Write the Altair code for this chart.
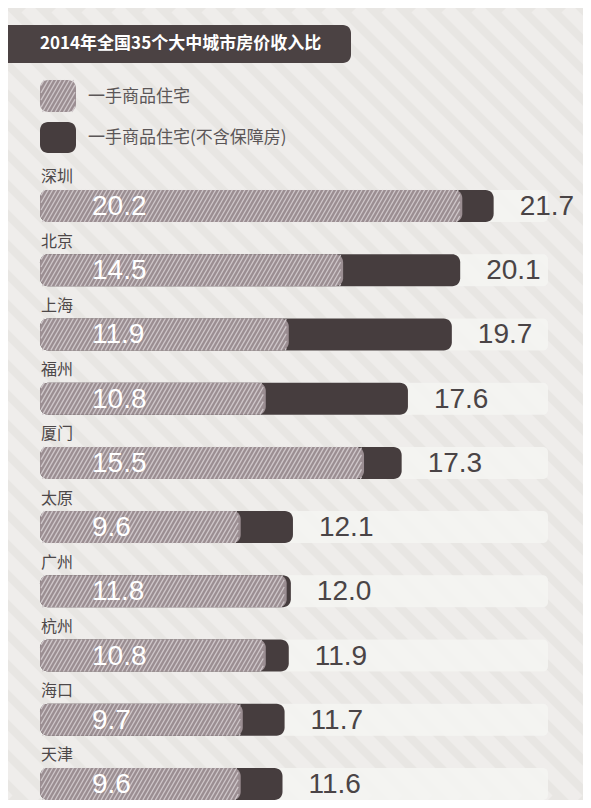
import altair as alt
import pandas as pd
import numpy as np

# ---------------- data ----------------
cities = ["深圳", "北京", "上海", "福州", "厦门", "太原", "广州", "杭州", "海口", "天津"]
first_hand = [20.2, 14.5, 11.9, 10.8, 15.5, 9.6, 11.8, 10.8, 9.7, 9.6]          # 一手商品住宅
excl_affordable = [21.7, 20.1, 19.7, 17.6, 17.3, 12.1, 12.0, 11.9, 11.7, 11.6]  # 不含保障房
title_text = "2014年全国35个大中城市房价收入比"
legend_labels = ["一手商品住宅", "一手商品住宅(不含保障房)"]
AXIS_MAX = 24.3

# ---------------- style ----------------
W, H = 575, 792
HH = 0.249            # half bar height in row units
CJK = "Noto Sans CJK SC"
NUM_FONT = "Liberation Sans Narrow, Liberation Sans, sans-serif"
BG = "#e8e6e3"
DARK = "#463d3e"
HATCH_BASE = "#9b8e92"
HATCH_LINE = "#cfc7ca"

df = pd.DataFrame({"city": cities, "v1": first_hand, "v2": excl_affordable,
                   "row": list(range(len(cities)))})
df["top"] = df.row - HH
df["bot"] = df.row + HH
df["zero"] = 0.0
df["tend"] = AXIS_MAX
df["lab_y"] = df.row - 0.444

# hatch texture for the first-hand bars (derived from the values)
SHIFT, STEP, INSET = 0.88, 0.2, 0.12
hatch = []
for r, v in zip(df.row, df.v1):
    for s in np.arange(-SHIFT, v, STEP):
        lo, hi = 0.05, v - INSET
        t0 = max(0.0, (lo - s) / SHIFT)
        t1 = min(1.0, (hi - s) / SHIFT)
        if t1 <= t0:
            continue
        hatch.append(dict(x=s + SHIFT * t0, x2=s + SHIFT * t1,
                          y=r + HH - 2 * HH * t0, y2=r + HH - 2 * HH * t1))
hatch = pd.DataFrame(hatch)

xs = alt.Scale(domain=[0, AXIS_MAX], range=[32, 540], zero=False, nice=False)
ys = alt.Scale(domain=[0, len(cities) - 1], range=[198, 776], zero=False, nice=False)

base = alt.Chart(df)
track = base.mark_rect(color="#f5f4f2", opacity=0.85, cornerRadius=5).encode(
    x=alt.X("zero:Q", scale=xs, axis=None), x2="tend:Q",
    y=alt.Y("top:Q", scale=ys, axis=None), y2="bot:Q")
dark = base.mark_rect(color=DARK, cornerRadius=8).encode(
    x=alt.X("zero:Q", scale=xs, axis=None), x2="v2:Q",
    y=alt.Y("top:Q", scale=ys, axis=None), y2="bot:Q")
light = base.mark_rect(color=HATCH_BASE, cornerRadius=8).encode(
    x=alt.X("zero:Q", scale=xs, axis=None), x2="v1:Q",
    y=alt.Y("top:Q", scale=ys, axis=None), y2="bot:Q")
hatch_lines = alt.Chart(hatch).mark_rule(color=HATCH_LINE, strokeWidth=1.3).encode(
    x=alt.X("x:Q", scale=xs, axis=None), x2="x2:Q",
    y=alt.Y("y:Q", scale=ys, axis=None), y2="y2:Q")
city_lab = base.mark_text(align="left", baseline="middle", font=CJK, fontSize=16,
                          color="#4d4849").encode(
    x=alt.value(33), y=alt.Y("lab_y:Q", scale=ys, axis=None), text="city:N")
inner_lab = base.mark_text(align="left", baseline="middle", font=NUM_FONT, fontSize=28,
                           color="white", dy=1).encode(
    x=alt.value(84), y=alt.Y("row:Q", scale=ys, axis=None),
    text=alt.Text("v1:Q", format=".1f"))
outer_lab = base.mark_text(align="left", baseline="middle", font=NUM_FONT, fontSize=28,
                           color="#4a4446", dx=26, dy=1).encode(
    x=alt.X("v2:Q", scale=xs, axis=None), y=alt.Y("row:Q", scale=ys, axis=None),
    text=alt.Text("v2:Q", format=".1f"))

data_group = alt.layer(track, dark, light, hatch_lines, city_lab, inner_lab, outer_lab)

# ---------------- decoration in pixel space ----------------
pxs = alt.Scale(domain=[0, W], range=[0, W], zero=False, nice=False)
pys = alt.Scale(domain=[0, H], range=[0, H], zero=False, nice=False)

bg_lines = pd.DataFrame([dict(x=c, x2=c + H, y=0, y2=H) for c in np.arange(-H, W + 30, 30)])
bg = alt.Chart(bg_lines).mark_rule(color="white", opacity=0.3, strokeWidth=13, clip=True).encode(
    x=alt.X("x:Q", scale=pxs, axis=None), x2="x2:Q",
    y=alt.Y("y:Q", scale=pys, axis=None), y2="y2:Q")

boxes = pd.DataFrame([
    dict(x=-20, x2=343, y=17, y2=55, c="#4b4243", r=8),
    dict(x=32, x2=68, y=72, y2=104, c=HATCH_BASE, r=8),
    dict(x=32, x2=68, y=114, y2=145, c=DARK, r=8),
])
box = alt.Chart(boxes).mark_rect(cornerRadius=8).encode(
    x=alt.X("x:Q", scale=pxs, axis=None), x2="x2:Q",
    y=alt.Y("y:Q", scale=pys, axis=None), y2="y2:Q",
    color=alt.Color("c:N", scale=None))

sw = []
SP, SS = 18.5, 4.2
for s in np.arange(32 - SP, 68, SS):
    lo, hi = 33, 67
    t0 = max(0.0, (lo - s) / SP)
    t1 = min(1.0, (hi - s) / SP)
    if t1 <= t0:
        continue
    sw.append(dict(x=s + SP * t0, x2=s + SP * t1, y=104 - 32 * t0, y2=104 - 32 * t1))
sw_lines = alt.Chart(pd.DataFrame(sw)).mark_rule(color=HATCH_LINE, strokeWidth=1.3).encode(
    x=alt.X("x:Q", scale=pxs, axis=None), x2="x2:Q",
    y=alt.Y("y:Q", scale=pys, axis=None), y2="y2:Q")

title = alt.Chart(pd.DataFrame({"t": [title_text]})).mark_text(
    align="left", baseline="middle", font=CJK, fontSize=17, fontWeight="bold",
    color="white").encode(x=alt.value(32), y=alt.value(36), text="t:N")

leg = pd.DataFrame({"t": legend_labels, "y": [89, 130]})
leg_text = alt.Chart(leg).mark_text(align="left", baseline="middle", font=CJK, fontSize=17,
                                    color="#5b5657").encode(
    x=alt.value(80), y=alt.Y("y:Q", scale=pys, axis=None), text="t:N")

deco_group = alt.layer(bg, box, sw_lines, title, leg_text)

chart = alt.layer(deco_group, data_group).resolve_scale(
    x="independent", y="independent"
).properties(
    width=W, height=H, padding=0, autosize=alt.AutoSizeParams(type="none")
).configure(background=BG).configure_view(stroke=None)

chart.save("out.html", embed_options={"renderer": "svg", "actions": False})
